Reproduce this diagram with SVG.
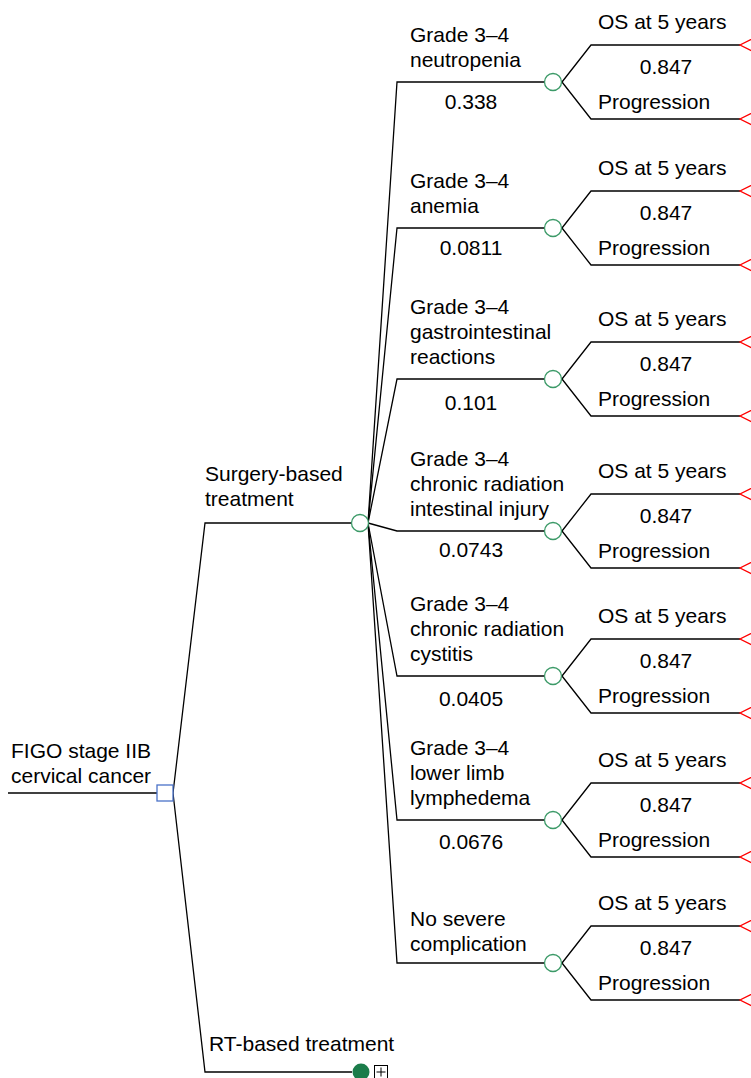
<svg xmlns="http://www.w3.org/2000/svg" width="751" height="1078" viewBox="0 0 751 1078">
<style>
text{font-family:"Liberation Sans",Arial,sans-serif;font-size:21px;fill:#000}
.ln{fill:none;stroke:#000;stroke-width:1.3}
.chance{fill:#fff;stroke:#3c9a68;stroke-width:1.3}
.term{fill:none;stroke:#ff0000;stroke-width:1.3}
.mid{text-anchor:middle}
</style>
<defs>
<g id="sub">
<path class="ln" d="M562,0 L591,-37 L740,-37 M562,0 L591,37 L740,37"/>
<polyline class="term" points="756,-45 740,-37 756,-29"/>
<polyline class="term" points="756,29 740,37 756,45"/>
<text x="598" y="-53">OS at 5 years</text>
<text x="666" y="-8" class="mid">0.847</text>
<text x="598" y="27">Progression</text>
<circle class="chance" cx="553" cy="0" r="8.5"/>
</g>
</defs>
<rect width="751" height="1078" fill="#fff"/>
<g id="connectors">
<path class="ln" d="M8,793 L157,793"/>
<path class="ln" d="M173,793 L205,523 L352,523"/>
<path class="ln" d="M173,793 L205,1072 L352,1072"/>
<path class="ln" d="M368,523 L397,82 L545,82"/>
<path class="ln" d="M368,523 L397,228 L545,228"/>
<path class="ln" d="M368,523 L397,379 L545,379"/>
<path class="ln" d="M368,523 L397,531 L545,531"/>
<path class="ln" d="M368,523 L397,676 L545,676"/>
<path class="ln" d="M368,523 L397,820 L545,820"/>
<path class="ln" d="M368,523 L397,963 L545,963"/>
</g>
<g id="root">
<text x="11" y="758">FIGO stage IIB</text>
<text x="11" y="783">cervical cancer</text>
<rect x="157" y="785" width="16" height="16" fill="#fff" stroke="#4a72c8" stroke-width="1.3"/>
</g>
<g id="surgery">
<text x="205" y="481">Surgery-based</text>
<text x="205" y="506">treatment</text>
<circle class="chance" cx="360" cy="523" r="8.5"/>
</g>
<g id="rt">
<text x="209" y="1051">RT-based treatment</text>
<circle cx="361" cy="1072" r="8.5" fill="#1b7c4a"/>
<rect x="374.5" y="1065.5" width="13" height="13" fill="#fff" stroke="#000" stroke-width="1"/>
<path d="M381,1067.5 V1076.5 M376.5,1072 H385.5" stroke="#000" stroke-width="1"/>
</g>
<g id="neutropenia">
<text x="410" y="42">Grade 3–4</text>
<text x="410" y="67">neutropenia</text>
<text x="471" y="109" class="mid">0.338</text>
<use href="#sub" y="82"/>
</g>
<g id="anemia">
<text x="410" y="188">Grade 3–4</text>
<text x="410" y="213">anemia</text>
<text x="471" y="255" class="mid">0.0811</text>
<use href="#sub" y="228"/>
</g>
<g id="gastro">
<text x="410" y="314">Grade 3–4</text>
<text x="410" y="339">gastrointestinal</text>
<text x="410" y="364">reactions</text>
<text x="471" y="410" class="mid">0.101</text>
<use href="#sub" y="379"/>
</g>
<g id="intestinal">
<text x="410" y="466">Grade 3–4</text>
<text x="410" y="491">chronic radiation</text>
<text x="410" y="516">intestinal injury</text>
<text x="471" y="557" class="mid">0.0743</text>
<use href="#sub" y="531"/>
</g>
<g id="cystitis">
<text x="410" y="611">Grade 3–4</text>
<text x="410" y="636">chronic radiation</text>
<text x="410" y="661">cystitis</text>
<text x="471" y="706" class="mid">0.0405</text>
<use href="#sub" y="676"/>
</g>
<g id="lymphedema">
<text x="410" y="755">Grade 3–4</text>
<text x="410" y="780">lower limb</text>
<text x="410" y="805">lymphedema</text>
<text x="471" y="849" class="mid">0.0676</text>
<use href="#sub" y="820"/>
</g>
<g id="nocomplication">
<text x="410" y="926">No severe</text>
<text x="410" y="951">complication</text>
<use href="#sub" y="963"/>
</g>
</svg>
